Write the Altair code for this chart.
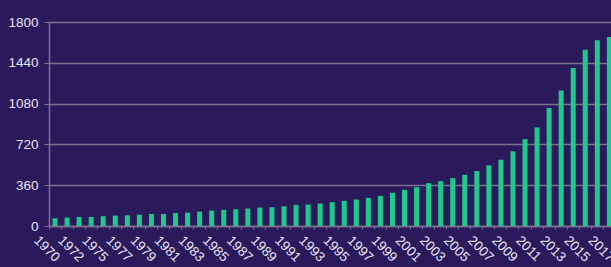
import altair as alt
import pandas as pd

years = [1970, 1971, 1972, 1974, 1975, 1976, 1977, 1978, 1979, 1980,
         1981, 1982, 1983, 1984, 1985, 1986, 1987, 1988, 1989, 1990,
         1991, 1992, 1993, 1994, 1995, 1996, 1997, 1998, 1999, 2000,
         2001, 2002, 2003, 2004, 2005, 2006, 2007, 2008, 2009, 2010,
         2011, 2012, 2013, 2014, 2015, 2016, 2017]
values = [68, 74, 80, 80, 86, 92, 95, 100, 106, 106,
          115, 118, 127, 136, 142, 148, 154, 163, 166, 174,
          186, 189, 198, 210, 222, 234, 248, 266, 293, 319,
          343, 378, 396, 423, 452, 485, 535, 585, 659, 767,
          870, 1042, 1195, 1395, 1555, 1640, 1667]
labeled_years = [1970, 1972, 1975, 1977, 1979, 1981, 1983, 1985, 1987, 1989,
                 1991, 1993, 1995, 1997, 1999, 2001, 2003, 2005, 2007, 2009,
                 2011, 2013, 2015, 2017]
y_ticks = [0, 360, 720, 1080, 1440, 1800]

df = pd.DataFrame({"year": [str(y) for y in years], "value": values})
label_set = ",".join("'%d'" % y for y in labeled_years)
label_expr = "indexof([%s], datum.value) >= 0 ? datum.value : ''" % label_set

grid_col = "#7d7192"
text_col = "#e6e2f2"
bg = "#2a1a5c"

chart = alt.Chart(df).mark_bar(size=5, color="#1ec98b", clip=True).encode(
    x=alt.X("year:N", sort=None, title=None,
            scale=alt.Scale(range=[0, 566.4], paddingInner=0, paddingOuter=0),
            axis=alt.Axis(bandPosition=0, labelAngle=45, labelAlign="left",
                          labelBaseline="top", labelOffset=-14, labelPadding=4,
                          labelExpr=label_expr, labelColor=text_col,
                          labelFont="Liberation Sans", labelFontSize=13.5,
                          tickColor=grid_col, tickSize=3, domainColor=grid_col,
                          domainWidth=1.5, grid=False, labelOverlap=False,
                          labelBound=False)),
    y=alt.Y("value:Q", title=None,
            scale=alt.Scale(domain=[0, 1800], nice=False, zero=True),
            axis=alt.Axis(values=y_ticks, format="d", labelColor=text_col,
                          labelFont="Liberation Sans", labelFontSize=13.5,
                          tickColor=grid_col, tickSize=5, labelPadding=6,
                          domainColor=grid_col, domainWidth=1.5,
                          gridColor=grid_col, gridWidth=1.5, grid=True)),
).properties(
    width=562, height=204,
    autosize=alt.AutoSizeParams(type="none"),
    padding={"left": 49, "top": 22, "right": 0, "bottom": 41},
    background=bg,
).configure_view(stroke=None)

chart.save("out.html", embed_options={"renderer": "svg", "actions": False})
